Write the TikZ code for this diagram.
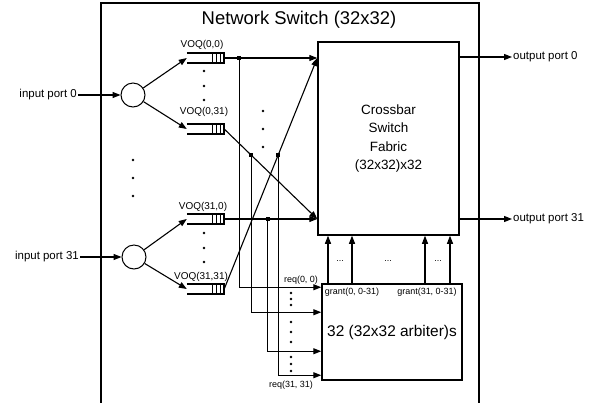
\documentclass[tikz,border=0pt]{standalone}
\usepackage{fontspec}
\setmainfont{Liberation Sans}
\usetikzlibrary{arrows.meta,calc}

\begin{document}
\begin{tikzpicture}[x=1bp,y=-1bp,
  box/.style={draw,line width=1.5bp,inner sep=0},
  port/.style={draw,circle,minimum size=24bp,inner sep=0,line width=1bp},
  queue/.style={minimum width=37bp,minimum height=10bp,inner sep=0},
  arr/.style={-{Triangle[length=8bp,width=6bp]},line width=1.1bp},
  junc/.style={fill,rectangle,inner sep=0,minimum size=4.5bp},
  plbl/.style={inner sep=1bp,font=\fontsize{11.5}{13}\selectfont},
  qlbl/.style={inner sep=0,font=\fontsize{10}{12}\selectfont},
  lbl/.style={inner sep=0,font=\fontsize{9}{10}\selectfont}]
  \useasboundingbox (0,0) rectangle (595,402);
  % Switch frame
  \draw[line width=2bp] (101,410) -- (101,3) -- (479,3) -- (479,410);
  \node[font=\fontsize{18.5}{20}\selectfont] (title) at (299,20) {Network Switch (32x32)};
  % Crossbar and arbiters
  \node[box,minimum width=141bp,minimum height=193bp,align=center,
    font=\fontsize{13.5}{18.7}\selectfont] (fabric) at (388.5,138.5) {Crossbar\\Switch\\Fabric\\(32x32)x32};
  \node[box,minimum width=140bp,minimum height=96bp,
    font=\fontsize{15.5}{18}\selectfont] (arb) at (392,332) {32 (32x32 arbiter)s};
  % Input ports
  \node[port] (in0) at (133,95) {};
  \node[port] (in31) at (134,257) {};
  \node[plbl,anchor=east] (lin0) at (78,95) {input port 0};
  \node[plbl,anchor=east] (lin31) at (80,257) {input port 31};
  \draw[arr] (lin0) -- (in0);
  \draw[arr] (lin31) -- (in31);
  % VOQs
  \node[queue] (q00) at (205.5,58) {};
  \node[queue] (q031) at (205.5,129) {};
  \node[queue] (q310) at (205.5,219) {};
  \node[queue] (q3131) at (205.5,289) {};
  \foreach \n in {q00,q031,q310,q3131}{
    \draw[line width=1.6bp] (\n.north west) -- (\n.north east) -- (\n.south east) -- (\n.south west);
    \foreach \d in {4,8,11.5}
      \draw[line width=1bp] ([xshift=-\d bp]\n.north east) -- ([xshift=-\d bp]\n.south east);
  }
  \node[qlbl] (l00) at (202,45) {VOQ(0,0)};
  \node[qlbl] (l031) at (204,112) {VOQ(0,31)};
  \node[qlbl] (l310) at (203,207) {VOQ(31,0)};
  \node[qlbl] (l3131) at (201,277) {VOQ(31,31)};
  \draw[arr] (in0) -- (q00.west);
  \draw[arr] (in0) -- (q031.west);
  \draw[arr] (in31) -- (q310.west);
  \draw[arr] (in31) -- (q3131.west);
  % VOQs to crossbar
  \coordinate (f0) at (fabric.west |- q00.east);
  \coordinate (f31) at (fabric.west |- q310.east);
  \draw[arr] (q00.east) -- (f0);
  \draw[arr] (q031.east) -- (f31);
  \draw[arr] (q310.east) -- (f31);
  \draw[arr] (q3131.east) -- (f0);
  % Requests
  \coordinate (j0) at ($(q00.east)!0.16!(f0)$);
  \coordinate (j1) at ($(q031.east)!0.29!(f31)$);
  \coordinate (j2) at ($(q310.east)!0.47!(f31)$);
  \coordinate (j3) at ($(q3131.east)!0.58!(f0)$);
  \coordinate (r0) at ([yshift=-4bp]arb.north west);
  \coordinate (r1) at ([yshift=-29bp]arb.north west);
  \coordinate (r2) at ([yshift=-68bp]arb.north west);
  \coordinate (r3) at ([yshift=-92bp]arb.north west);
  \foreach \i in {0,1,2,3}{
    \draw[arr] (j\i) |- (r\i);
    \node[junc] (d\i) at (j\i) {};
  }
  \node[lbl] (rq0) at (301,280) {req(0, 0)};
  \node[lbl] (rq31) at (291,385) {req(31, 31)};
  % Grants
  \foreach \x in {328,352,425,450}
    \draw[arr] (\x,0 |- arb.north) -- (\x,0 |- fabric.south);
  \node[lbl] (g0) at (352,292) {grant(0, 0-31)};
  \node[lbl] (g31) at (427,292) {grant(31, 0-31)};
  \node[lbl] (gd0) at (340,261) {...};
  \node[lbl] (gd1) at (388,261) {...};
  \node[lbl] (gd2) at (438,261) {...};
  % Outputs
  \node[plbl,anchor=west] (out0) at (512,57) {output port 0};
  \node[plbl,anchor=west] (out31) at (512,219) {output port 31};
  \draw[arr] (fabric.east |- out0) -- (out0);
  \draw[arr] (fabric.east |- out31) -- (out31);
  % Dots
  \foreach \p in {(204,71),(204,86),(204,100),(204,233),(204,248),(204,262),
    (133,160),(133,178),(133,196),(263,111),(263,129),(263,147),
    (291,293),(291,299),(291,305),(291,322),(291,332),(291,342),(291,357),(291,364),(291,371)}
    \fill \p circle[radius=1.3bp];
\end{tikzpicture}
\end{document}
